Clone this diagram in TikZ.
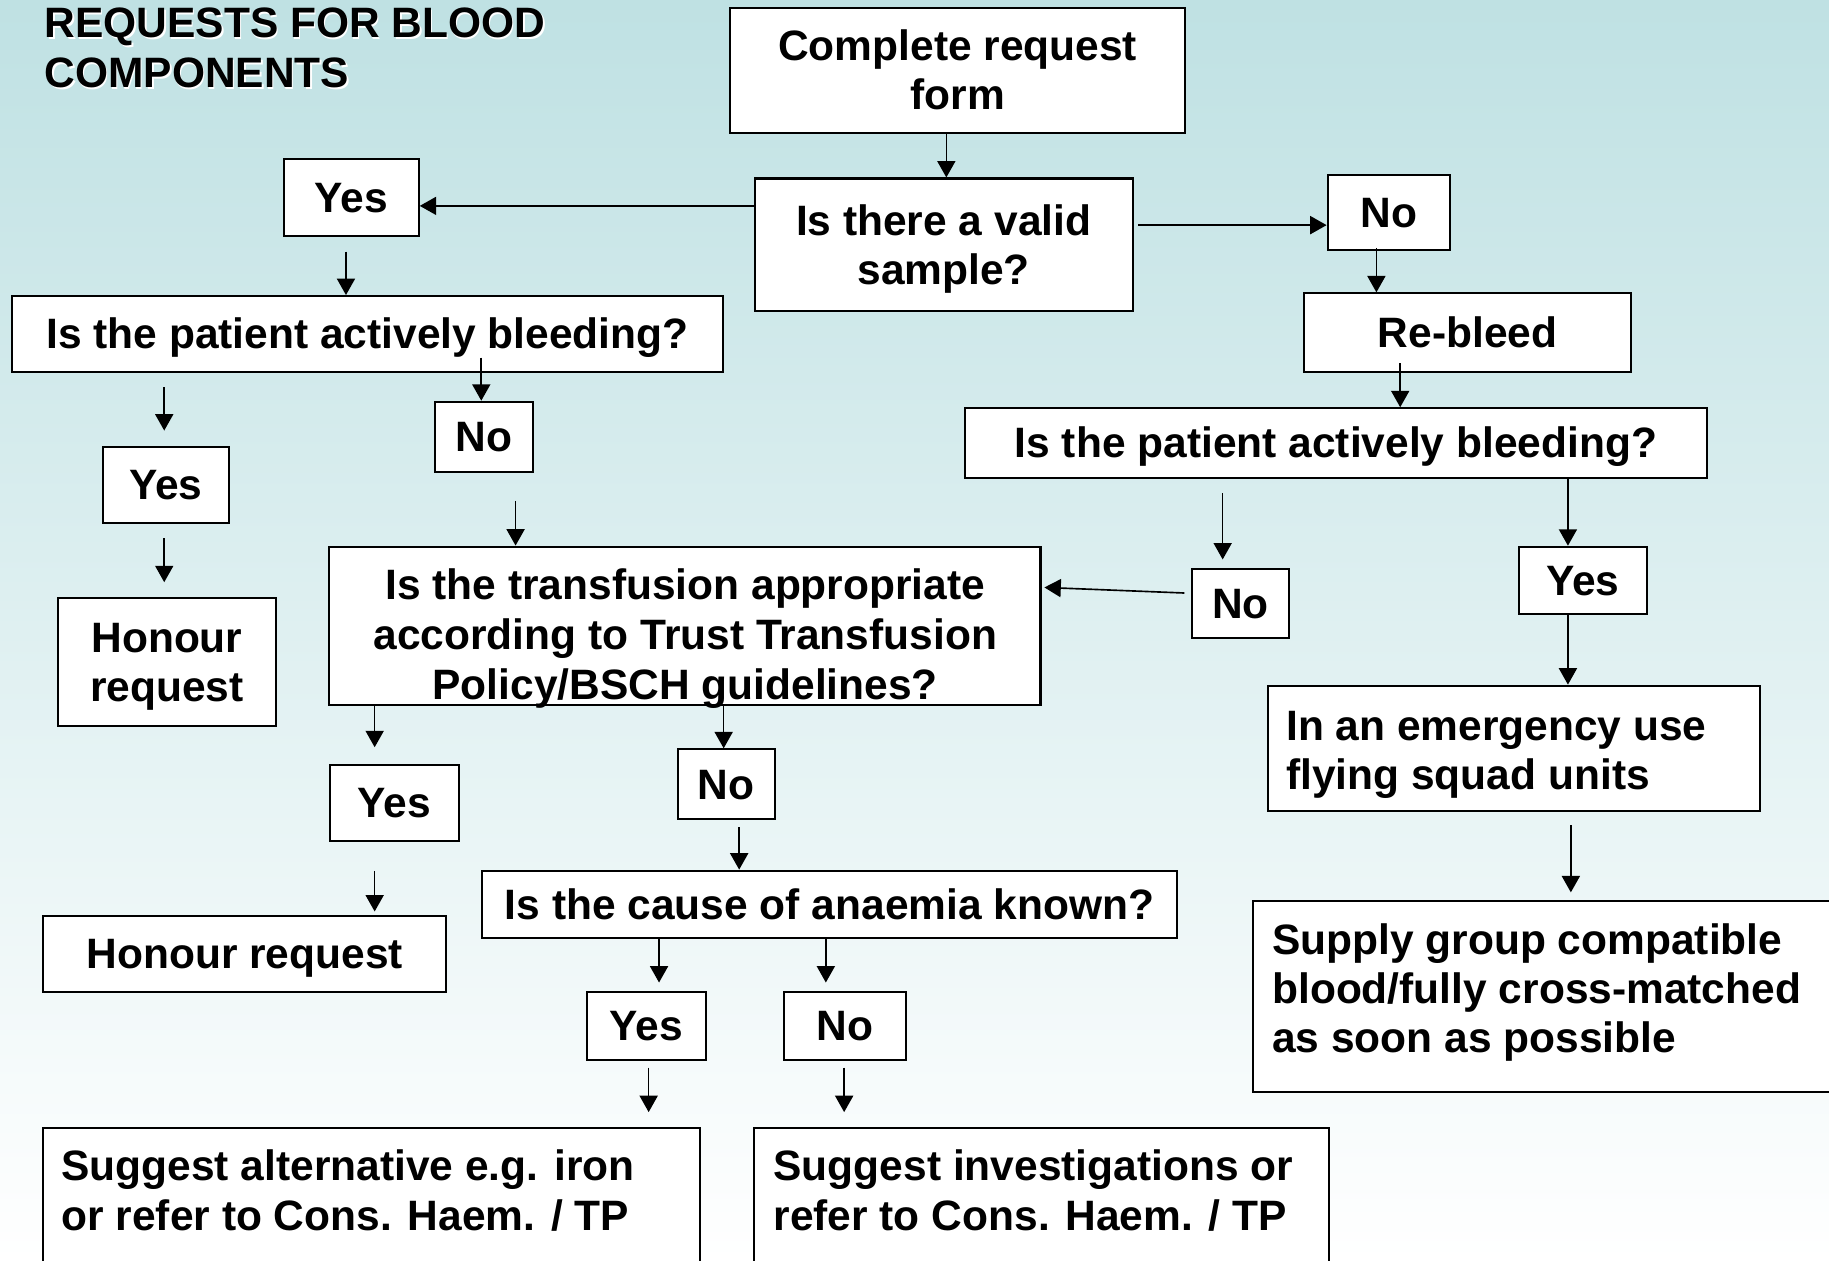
\documentclass[tikz,border=0pt]{standalone}
\usepackage{fontspec}
\setmainfont{Liberation Sans}
\usetikzlibrary{arrows.meta}

\definecolor{bgtop}{HTML}{BFE1E3}
% strut giving each line a fixed ascent and descent
\newcommand\ps{\rule[-0.212em]{0pt}{1.117em}}
\newcommand\flowfont{\bfseries\fontsize{10.36pt}{11.95pt}\selectfont}
\newcommand\widefont{\bfseries\fontsize{10.36pt}{12.23pt}\selectfont}

\begin{document}
\begin{tikzpicture}[x=0.01cm, y=-0.01cm,
  box/.style={draw=black, line width=0.5pt, fill=white, inner sep=0pt, align=center, font=\flowfont},
  sz/.style 2 args={minimum width=#1*0.01cm, minimum height=#2*0.01cm},
  txt/.style={inner sep=0pt, font=\flowfont},
  arr/.style={-{Triangle[width=4.4pt,length=4pt]}, line width=0.4pt}]

% page and background
\useasboundingbox (0,0) rectangle (1568,1081);
\clip (0,0) rectangle (1568,1081);
\shade[top color=bgtop, bottom color=white] (0,0) rectangle (1568,1081);

% heading with its light offset shadow
\node[txt, font=\widefont, anchor=north west, align=left, text=white] (headshadow) at (38.9,0) {\ps REQUESTS FOR BLOOD\\COMPONENTS\ps};
\node[txt, font=\widefont, anchor=north west, align=left] (heading) at (37.6,-1.3) {\ps REQUESTS FOR BLOOD\\COMPONENTS\ps};

% boxes
\node[box, sz={390}{107}] (A) at (821,60.5) {\ps Complete request\\form\ps};
\node[box, sz={324}{114}] (B) at (809,210) {\ps Is there a valid\\sample?\ps};
\node[box, sz={115.5}{65.7}] (C) at (301.25,169.45) {\ps Yes\ps};
\node[box, sz={105}{64.3}] (D) at (1190.7,182.15) {\ps No\ps};
\node[box, sz={280.5}{67.1}] (E) at (1258.25,285.05) {\ps Re-bleed\ps};
\node[box, sz={636.5}{60}] (F) at (1145.25,380) {\ps Is the patient actively bleeding?\ps};
\node[box, sz={610}{64.8}] (G) at (315,286.2) {\ps Is the patient actively bleeding?\ps};
\node[box, sz={108.3}{65.6}] (H) at (142.15,415.8) {\ps Yes\ps};
\node[box, sz={186.8}{109.4}] (I) at (143.1,567.7) {\ps Honour\\request\ps};
\node[box, sz={83.4}{60}] (J) at (414.9,374.4) {\ps No\ps};
\node[box, sz={609.6}{135.4}] (K) at (587.2,536.3) {};
\node[box, sz={83.1}{59.1}] (L) at (1063.45,517.25) {\ps No\ps};
\node[box, sz={109.2}{57.7}] (M) at (1357.1,497.55) {\ps Yes\ps};
\node[box, sz={421.7}{107.3}] (N) at (1297.75,641.45) {};
\node[box, sz={526.2}{164.1}] (O) at (1336.9,854.45) {};
\node[box, sz={110.7}{64.9}] (P) at (338.15,688.25) {\ps Yes\ps};
\node[box, sz={345.8}{65.4}] (Q) at (209.8,818) {\ps Honour request\ps};
\node[box, sz={83.1}{60}] (R) at (622.55,672.4) {\ps No\ps};
\node[box, sz={596}{58}] (S) at (711.2,775.4) {\ps Is the cause of anaemia known?\ps};
\node[box, sz={102.3}{58.5}] (T) at (554.15,879.45) {\ps Yes\ps};
\node[box, sz={104.5}{58.5}] (U) at (724.25,879.45) {\ps No\ps};
\node[box, sz={563.5}{152.7}] (V) at (318.65,1043.65) {};
\node[box, sz={493}{152.7}] (W) at (892.5,1043.65) {};

% texts set from the top of their boxes
\node[txt, font=\widefont, anchor=north, align=center] (Ktext) at (587.5,480) {\ps Is the transfusion appropriate\\according to Trust Transfusion\\Policy/BSCH guidelines?\ps};
\node[txt, anchor=north west, align=left] (Ntext) at (1102,600.8) {\ps In an emergency use\\flying squad units\ps};
\node[txt, anchor=north west, align=left] (Otext) at (1090,784.5) {\ps Supply group compatible\\blood/fully cross-matched\\as soon as possible\ps};
\node[txt, font=\widefont, anchor=north west, align=left] (Vtext) at (52,978) {\ps Suggest alternative e.g. iron\\or refer to Cons. Haem. / TP\ps};
\node[txt, font=\widefont, anchor=north west, align=left] (Wtext) at (662.5,978) {\ps Suggest investigations or\\refer to Cons. Haem. / TP\ps};

% connectors
\draw[arr] (A.south -| 811.3,0) -- (B.north -| 811.3,0);
\draw[arr] (B.west |- 0,176.5) -- (C.east |- 0,176.5);
\draw[arr, shorten <=0.04cm] (B.east |- 0,193) -- (D.west |- 0,193);
\draw[arr, shorten <=-0.027cm] (D.south -| 1180,0) -- (E.north -| 1180,0);
\draw[arr, shorten <=-0.08cm] (E.south -| 1200.4,0) -- (F.north -| 1200.4,0);
\draw[arr, shorten <=0.126cm] (C.south -| 296.6,0) -- (G.north -| 296.6,0);
\draw[arr, shorten <=0.124cm, shorten >=0.13cm] (G.south -| 140.8,0) -- (H.north -| 140.8,0);
\draw[arr, shorten <=0.12cm, shorten >=0.13cm] (H.south -| 140.8,0) -- (I.north -| 140.8,0);
\draw[arr, shorten <=-0.128cm] (G.south -| 412.6,0) -- (J.north -| 412.6,0);
\draw[arr, shorten <=0.242cm] (J.south -| 442,0) -- (K.north -| 442,0);
\draw[arr, shorten <=0.12cm, shorten >=0.072cm] (F.south -| 1048.2,0) -- (L.north -| 1048.2,0);
\draw[arr, shorten <=0.056cm, shorten >=0.025cm] (L.west |- 0,508.6) -- (K.east |- 0,503.5);
\draw[arr] (F.south -| 1344.2,0) -- (M.north -| 1344.2,0);
\draw[arr] (M.south -| 1344.2,0) -- (N.north -| 1344.2,0);
\draw[arr, shorten <=0.117cm, shorten >=0.065cm] (N.south -| 1346.7,0) -- (O.north -| 1346.7,0);
\draw[arr, shorten >=0.143cm] (K.south -| 321.2,0) -- (P.north -| 321.2,0);
\draw[arr, shorten <=0.25cm, shorten >=0.03cm] (P.south -| 321.2,0) -- (Q.north -| 321.2,0);
\draw[arr] (K.south -| 620.4,0) -- (R.north -| 620.4,0);
\draw[arr, shorten <=0.057cm] (R.south -| 633.7,0) -- (S.north -| 633.7,0);
\draw[arr, shorten >=0.07cm] (S.south -| 565,0) -- (T.north -| 565,0);
\draw[arr, shorten >=0.07cm] (S.south -| 708,0) -- (U.north -| 708,0);
\draw[arr, shorten <=0.057cm, shorten >=0.13cm] (T.south -| 556.1,0) -- (V.north -| 556.1,0);
\draw[arr, shorten <=0.057cm, shorten >=0.13cm] (U.south -| 723.7,0) -- (W.north -| 723.7,0);
\end{tikzpicture}
\end{document}
